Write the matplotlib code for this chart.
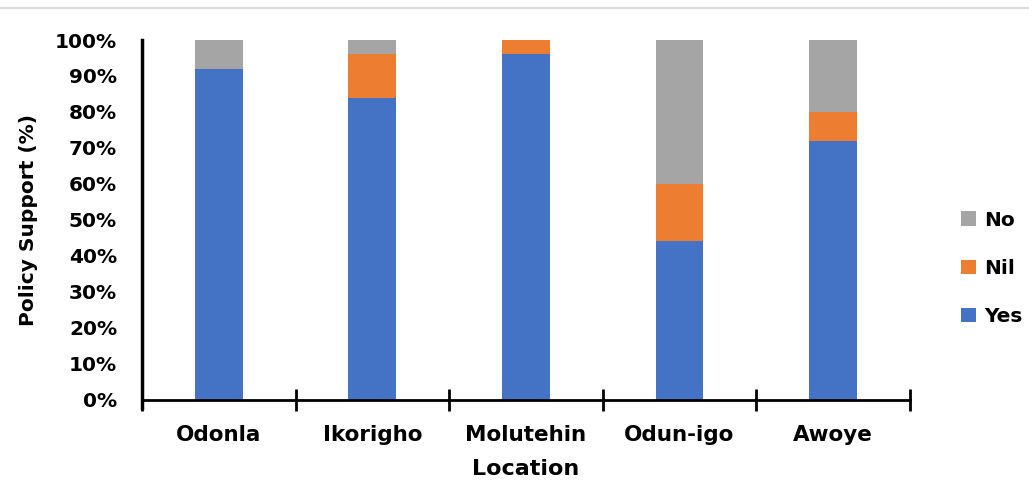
import matplotlib; matplotlib.use("Agg")
import matplotlib.pyplot as plt
from matplotlib.lines import Line2D
import numpy as np

locations = ["Odonla", "Ikorigho", "Molutehin", "Odun-igo", "Awoye"]
yes = [92, 84, 96, 44, 72]
nil = [0, 12, 4, 16, 8]
no = [8, 4, 0, 40, 20]

BLUE = "#4472C4"; ORANGE = "#ED7D31"; GRAY = "#A5A5A5"
plt.rcParams["font.family"] = ["DejaVu Sans"]
plt.rcParams["font.weight"] = "bold"

fig = plt.figure(figsize=(10.29, 4.88), dpi=100)
fig.patch.set_facecolor("white")
ax = fig.add_axes([0.138, 0.181, 0.746, 0.737])

x = np.arange(len(locations))
w = 0.31
b_yes = ax.bar(x, yes, w, color=BLUE, label="Yes")
b_nil = ax.bar(x, nil, w, bottom=yes, color=ORANGE, label="Nil")
b_no = ax.bar(x, no, w, bottom=np.add(yes, nil), color=GRAY, label="No")

ax.set_xlim(-0.5, len(locations) - 0.5)
ax.set_ylim(0, 100)
ax.set_yticks(range(0, 101, 10))
ax.set_yticklabels([f"{v}%" for v in range(0, 101, 10)], fontsize=14.5, fontweight="bold")
ax.tick_params(axis="y", length=0, pad=18)

# category labels between boundary ticks
ax.set_xticks(np.arange(-0.5, len(locations)), minor=False)
ax.set_xticklabels([])
ax.set_xticks(x, minor=True)
ax.set_xticklabels(locations, minor=True, fontsize=15.5, fontweight="bold")
ax.tick_params(axis="x", which="major", direction="inout", length=16, width=2)
ax.tick_params(axis="x", which="minor", length=0, pad=18.5)

for s in ["top", "right"]:
    ax.spines[s].set_visible(False)
ax.spines["left"].set_linewidth(2.5)
ax.spines["bottom"].set_linewidth(2)
ax.spines["left"].set_bounds(-2.2, 100)

ax.set_ylabel("Policy Support (%)", fontsize=14.5, fontweight="bold", labelpad=12)
ax.set_xlabel("Location", fontsize=16, fontweight="bold", labelpad=9.5)

leg = ax.legend(handles=[b_no, b_nil, b_yes], loc="center left",
                bbox_to_anchor=(0.934, 0.45), bbox_transform=fig.transFigure,
                frameon=False, fontsize=14.5, handlelength=0.75, handleheight=0.75,
                handletextpad=0.4, labelspacing=1.45, borderpad=0, borderaxespad=0)
for t in leg.get_texts():
    t.set_fontweight("bold")

# thin rule along the top edge
fig.add_artist(Line2D([0, 1], [0.984, 0.984], transform=fig.transFigure,
                      color="#d9d9d9", lw=1.5))

fig.savefig("out.png", dpi=100, facecolor="white")
